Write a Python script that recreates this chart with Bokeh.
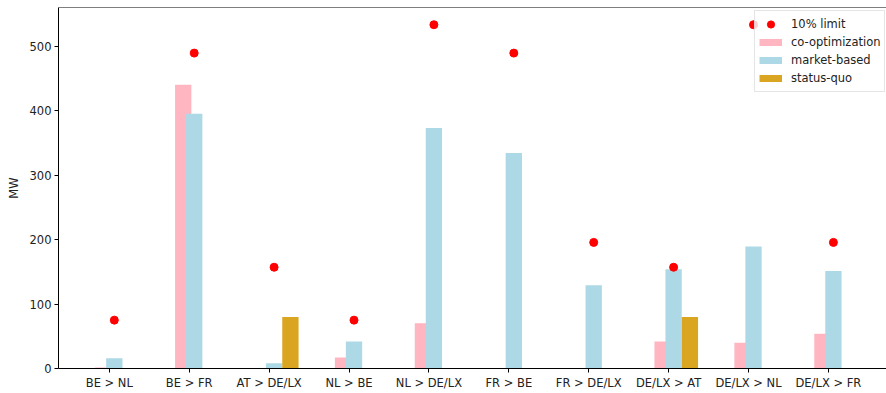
from bokeh.plotting import figure
from bokeh.models import (ColumnDataSource, FixedTicker, Range1d,
                          Legend, LegendItem, Span)
from bokeh.transform import dodge
from bokeh.embed import file_html
from bokeh.resources import INLINE

categories = ["BE > NL", "BE > FR", "AT > DE/LX", "NL > BE", "NL > DE/LX",
              "FR > BE", "FR > DE/LX", "DE/LX > AT", "DE/LX > NL", "DE/LX > FR"]
co_optimization = [1.5, 440, 0, 17, 70, 0, 0, 42, 40, 54]
market_based = [16, 395, 8, 42, 373, 334, 129, 154, 189, 151]
status_quo = [0, 0, 80, 0, 0, 0, 0, 80, 0, 0]
limit_10 = [75, 489, 157, 75, 533, 489, 195.5, 157, 533, 195.5]
y_ticks = [0, 100, 200, 300, 400, 500]

idx = list(range(len(categories)))
src = ColumnDataSource(dict(idx=idx, co=co_optimization, mb=market_based,
                            sq=status_quo, lim=limit_10))

FONT = "DejaVu Sans"
FS = "11.5px"

p = figure(width=886, height=393, output_backend="svg", toolbar_location=None,
           x_range=Range1d(-0.636, 9.727), y_range=Range1d(0, 559.7))
p.min_border_left = 58
p.min_border_right = 0
p.min_border_top = 7
p.min_border_bottom = 25
p.outline_line_color = None
p.xgrid.visible = False
p.ygrid.visible = False
p.background_fill_color = "white"
p.border_fill_color = "white"

W = 0.204
r_co = p.vbar(x=dodge("idx", -0.075), top="co", width=W, source=src,
              fill_color="lightpink", line_color=None)
r_mb = p.vbar(x=dodge("idx", 0.0625), top="mb", width=W, source=src,
              fill_color="lightblue", line_color=None)
r_sq = p.vbar(x=dodge("idx", 0.2665), top="sq", width=W, source=src,
              fill_color="goldenrod", line_color=None)
r_lim = p.scatter(x=dodge("idx", 0.0625), y="lim", size=8, source=src,
                  fill_color="red", line_color="red")

# top spine
p.add_layout(Span(location=559.7, dimension="width", line_color="black", line_width=1))

# legend proxies (patch-like thick lines), kept outside the visible range
l_co = p.line(x=[-10, -9], y=[-100, -100], line_color="lightpink", line_width=7, line_cap="butt")
l_mb = p.line(x=[-10, -9], y=[-100, -100], line_color="lightblue", line_width=7, line_cap="butt")
l_sq = p.line(x=[-10, -9], y=[-100, -100], line_color="goldenrod", line_width=7, line_cap="butt")

legend = Legend(items=[
    LegendItem(label="10% limit", renderers=[r_lim]),
    LegendItem(label="co-optimization", renderers=[l_co]),
    LegendItem(label="market-based", renderers=[l_mb]),
    LegendItem(label="status-quo", renderers=[l_sq]),
], location=(696, 276))
legend.label_text_font = FONT
legend.label_text_font_size = FS
legend.label_text_color = "#222222"
legend.glyph_width = 23
legend.glyph_height = 18
legend.label_height = 18
legend.spacing = 0
legend.padding = 4
legend.margin = 0
legend.label_standoff = 9
legend.border_line_color = "#cccccc"
legend.background_fill_alpha = 0.8
p.add_layout(legend)

xa = p.xaxis[0]
xa.ticker = FixedTicker(ticks=idx, minor_ticks=[])
xa.major_label_overrides = {i: c for i, c in zip(idx, categories)}
ya = p.yaxis[0]
ya.ticker = FixedTicker(ticks=y_ticks, minor_ticks=[])
ya.axis_label = "MW"
ya.axis_label_text_font_style = "normal"
ya.axis_label_text_font = FONT
ya.axis_label_text_font_size = FS
ya.axis_label_text_color = "#222222"
ya.axis_label_standoff = 6
for ax in (xa, ya):
    ax.major_label_text_font = FONT
    ax.major_label_text_font_size = FS
    ax.major_label_text_color = "#222222"
    ax.axis_line_color = "black"
    ax.major_tick_line_color = "black"
    ax.major_tick_out = 4
    ax.major_tick_in = 0
    ax.minor_tick_line_color = None
    ax.major_label_standoff = 3

open("out.html", "w").write(file_html(p, INLINE))
